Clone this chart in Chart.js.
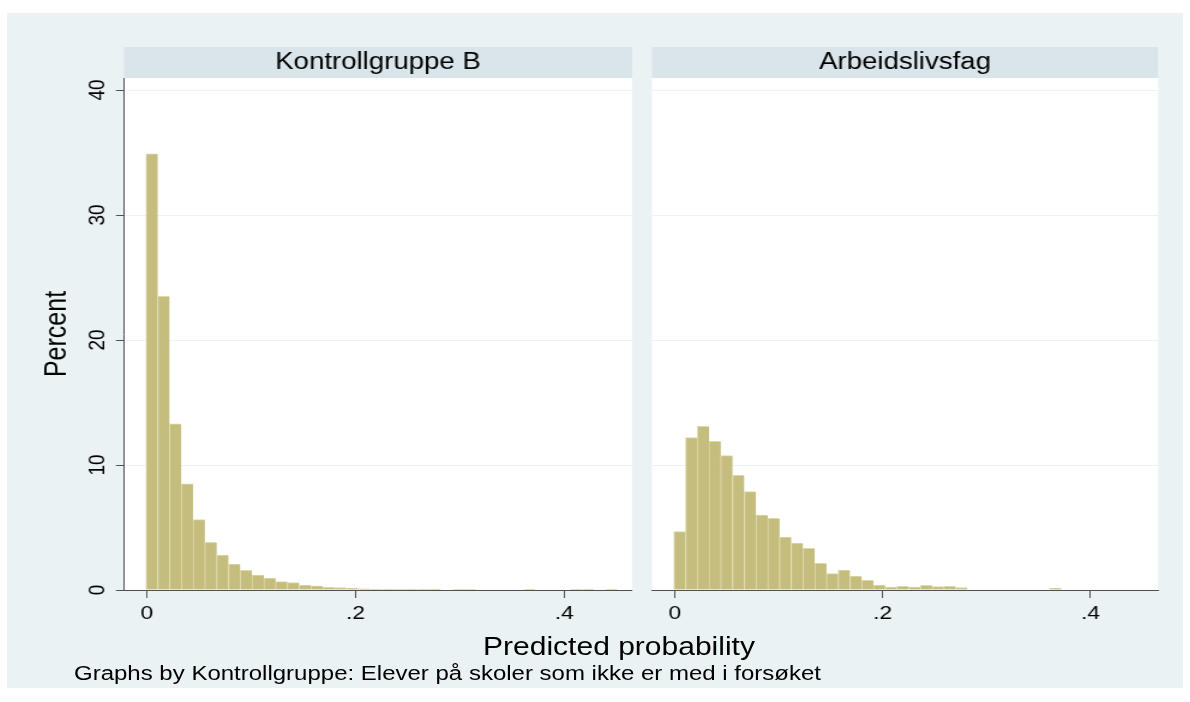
<!DOCTYPE html>
<html>
<head>
<meta charset="utf-8">
<script src="https://cdn.jsdelivr.net/npm/chart.js@4.4.1/dist/chart.umd.min.js"></script>
<style>
  html, body { margin: 0; padding: 0; background: #fff; }
  #page { position: relative; width: 1190px; height: 702px; overflow: hidden; }
  #bg { position: absolute; left: 7px; top: 13px; width: 1176px; height: 675px; background: #eaf2f3; }
  .panel { position: absolute; top: 13px; transform-origin: 0 0; transform: scaleX(1.2); }
  .note { position: absolute; font-family: 'Liberation Sans', Arial, sans-serif; color: #000; white-space: nowrap; line-height: 1; }
  #xtitle { left: 319px; top: 634px; width: 600px; text-align: center; font-size: 25px; transform: scaleX(1.2); }
  #byline { left: 74px; top: 663px; font-size: 20px; transform-origin: 0 0; transform: scaleX(1.2); }
</style>
</head>
<body>
<div id="page">
  <div id="bg"></div>
  <div class="panel" style="left:7px"><canvas id="left" width="530" height="675"></canvas></div>
  <div class="panel" style="left:643px"><canvas id="right" width="450" height="675"></canvas></div>
  <div class="note" id="xtitle">Predicted probability</div>
  <div class="note" id="byline">Graphs by Kontrollgruppe: Elever på skoler som ikke er med i forsøket</div>
</div>
<script>
// histogram bins (predicted probability), same for both panels
const binStart = -0.001;
const binWidth = 0.0113;

const xTicks = [0, 0.2, 0.4];
const xTickLabels = ['0', '.2', '.4'];
const yTicks = [0, 10, 20, 30, 40];

const panelTitles = ['Kontrollgruppe B', 'Arbeidslivsfag'];

// percent per bin
const controlPct = [
  34.9, 23.5, 13.3, 8.5, 5.63, 3.81, 2.8, 2.08, 1.57, 1.2,
  0.96, 0.67, 0.59, 0.4, 0.33, 0.22, 0.19, 0.13, 0.1, 0.07,
  0.07, 0.07, 0.07, 0.07, 0.07, 0, 0.08, 0.08, 0, 0,
  0, 0, 0.07, 0, 0, 0, 0.07, 0.07, 0, 0.05
];
const tradePct = [
  4.67, 12.2, 13.1, 11.9, 10.75, 9.17, 7.87, 6.0, 5.73, 4.24,
  3.76, 3.33, 2.13, 1.31, 1.6, 1.12, 0.77, 0.4, 0.24, 0.3,
  0.24, 0.37, 0.27, 0.3, 0.19, 0, 0, 0, 0, 0,
  0, 0, 0.13
];

const axisColor = '#505050';
const gridColor = '#eaf2f3';
const headerColor = '#d9e5ea';
const barFill = 'rgb(196,189,125)';
const barEdge = 'rgb(222,218,168)';

Chart.defaults.font.family = "'Liberation Sans', Arial, sans-serif";
Chart.defaults.color = '#000';

const panelFrame = {
  id: 'panelFrame',
  beforeDraw(chart) {
    const {ctx, chartArea: a} = chart;
    ctx.save();
    ctx.fillStyle = headerColor;
    ctx.fillRect(a.left, 34, a.right - a.left, a.top - 34);
    ctx.fillStyle = '#fff';
    ctx.fillRect(a.left, a.top, a.right - a.left, a.bottom - a.top);
    ctx.restore();
  }
};

function makePanel(id, title, values, first) {
  const yAxis = {
    min: 0,
    max: 40.96,
    afterBuildTicks: s => { s.ticks = yTicks.map(v => ({value: v})); },
    afterFit: s => { s.width = first ? 97.5 : 0; },
    border: {display: first, color: axisColor, width: 1},
    grid: {
      color: c => (c.tick && c.tick.value === 0) ? 'rgba(0,0,0,0)' : gridColor,
      lineWidth: 1,
      drawTicks: first,
      tickLength: 6.7,
      tickColor: axisColor
    },
    ticks: {
      display: first,
      minRotation: 90,
      maxRotation: 90,
      crossAlign: 'center',
      padding: 4.5,
      font: {size: 19}
    },
    title: {
      display: first,
      text: 'Percent',
      font: {size: 25},
      padding: {top: 27, bottom: 0}
    }
  };

  return new Chart(document.getElementById(id), {
    type: 'bar',
    data: {
      datasets: [{
        data: values.map((v, i) => ({x: binStart + (i + 0.5) * binWidth, y: v})),
        backgroundColor: barFill,
        borderColor: barEdge,
        borderWidth: {top: 1, left: 1, right: 0, bottom: 0},
        barPercentage: 1,
        categoryPercentage: 1
      }]
    },
    options: {
      responsive: false,
      animation: false,
      devicePixelRatio: 1,
      layout: {
        padding: first
          ? {top: 34, bottom: 58, left: 0, right: 9.17}
          : {top: 34, bottom: 58, left: 7.5, right: 20.83}
      },
      scales: {
        x: {
          type: 'linear',
          min: -0.022,
          max: 0.465,
          offset: false,
          afterBuildTicks: s => { s.ticks = xTicks.map(v => ({value: v})); },
          afterFit: s => { s.height = 40; },
          border: {color: axisColor, width: 1},
          grid: {drawOnChartArea: false, drawTicks: true, tickLength: 8, tickColor: axisColor, offset: false},
          ticks: {
            padding: 4.6,
            maxRotation: 0,
            autoSkip: false,
            font: {size: 19},
            callback: (v, i) => xTickLabels[i]
          }
        },
        y: yAxis
      },
      plugins: {
        legend: {display: false},
        tooltip: {enabled: false},
        title: {
          display: true,
          text: title,
          fullSize: false,
          font: {size: 23, weight: 'normal'},
          padding: {top: 1.5, bottom: 1.9}
        }
      }
    },
    plugins: [panelFrame]
  });
}

makePanel('left', panelTitles[0], controlPct, true);
makePanel('right', panelTitles[1], tradePct, false);
</script>
</body>
</html>
